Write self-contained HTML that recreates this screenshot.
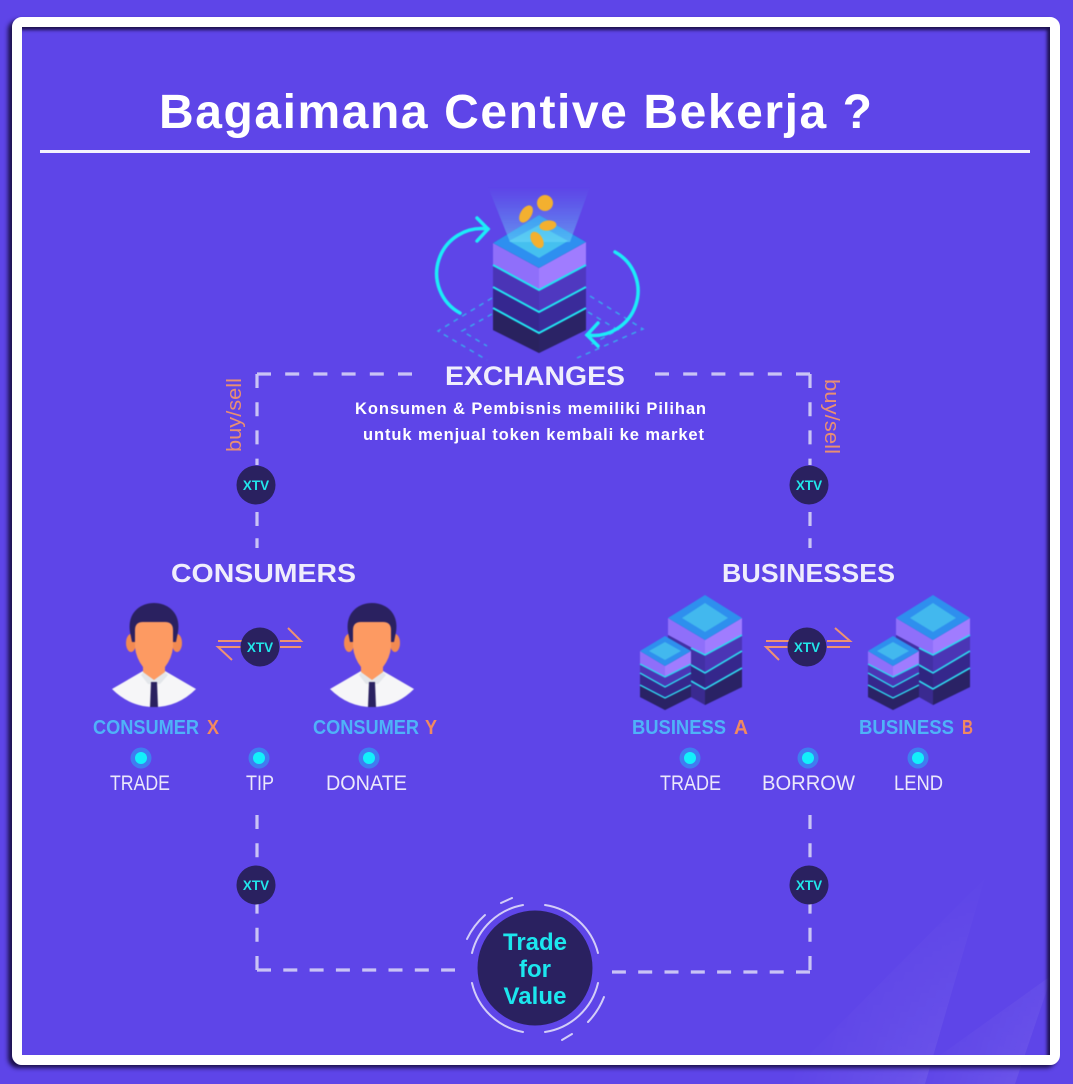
<!DOCTYPE html>
<html><head><meta charset="utf-8"><style>
html,body{margin:0;padding:0;background:#5e45e8;width:1073px;height:1084px;overflow:hidden}
svg{position:absolute;left:0;top:0}
#f{position:absolute;left:12px;top:17px;width:1028px;height:1028px;border:10px solid #fff;border-radius:10px;box-shadow:-4px 3px 4px rgba(25,15,70,.95),inset -3px 3px 3px rgba(25,15,70,.95)}
text{font-family:"Liberation Sans",sans-serif}
.soft{filter:blur(.5px)}
</style></head><body>
<svg width="1073" height="1084" viewBox="0 0 1073 1084" xmlns="http://www.w3.org/2000/svg">
<defs>
<linearGradient id="beam" x1="0" y1="0" x2="0" y2="1"><stop offset="0" stop-color="#5fb8f5" stop-opacity="0"/><stop offset="1" stop-color="#6fd8f8" stop-opacity=".55"/></linearGradient>
<linearGradient id="s1" gradientUnits="userSpaceOnUse" x1="820" y1="950" x2="958" y2="990"><stop offset="0" stop-color="#fff" stop-opacity="0"/><stop offset="1" stop-color="#fff" stop-opacity=".08"/></linearGradient>
<linearGradient id="s2" gradientUnits="userSpaceOnUse" x1="925" y1="1020" x2="1030" y2="1050"><stop offset="0" stop-color="#fff" stop-opacity="0"/><stop offset="1" stop-color="#fff" stop-opacity=".08"/></linearGradient>
<linearGradient id="st2" x1="0" y1="0" x2="0" y2="1"><stop offset="0" stop-color="#000"/><stop offset="1" stop-color="#fff"/></linearGradient>
<mask id="fade" maskUnits="userSpaceOnUse" x="760" y="860" width="313" height="224"><rect x="760" y="860" width="313" height="224" fill="url(#st2)"/></mask>
<g id="person">
<path d="M112 689L143 671H165L196 689Q178 707 154 707Q130 707 112 689Z" fill="#f6f6f8"/>
<path d="M141 675L146 669H162L168 675L160 684H148Z" fill="#e3e6ea"/>
<path d="M151 682H157L158 707H150Z" fill="#2a2160"/>
<ellipse cx="131" cy="643" rx="5" ry="9" fill="#f28a52"/><ellipse cx="177" cy="643" rx="5" ry="9" fill="#f28a52"/>
<path d="M130 632C127 613 140 603 154 603C168 603 181 613 178 632L176 642H132Z" fill="#2a2160"/>
<path d="M135 630Q135 622 143 622H165Q173 622 173 630V647Q172 658 165 667V672L154 680L143 672V667Q136 658 135 647Z" fill="#fd9a62"/>
</g>
<g id="bld">
<path d="M668 618L705 640V705L668 684Z" fill="#3a2a90"/>
<path d="M705 640L742 618V687L705 705Z" fill="#2f2475"/>
<path d="M705 640L742 618V635L705 655Z" fill="#a07cff"/><path d="M668 618L705 640V655L668 635Z" fill="#8f6ffa"/>
<path d="M705 655L742 635V651L705 673Z" fill="#4b35b5"/><path d="M668 635L705 655V673L668 651Z" fill="#4230a5"/>
<path d="M705 673L742 651V668L705 689Z" fill="#35278c"/><path d="M668 651L705 673V689L668 668Z" fill="#2f2580"/>
<path d="M705 689L742 668V687L705 705Z" fill="#2a2265"/>
<path d="M705 595L742 618L705 640L668 618Z" fill="#2e8fee"/>
<path d="M705 603L728 618L705 632L682 618Z" fill="#42b8ee"/>
<path d="M742 635L705 655L691 648M742 651L705 673L691 665M742 668L705 689L691 681" stroke="#2fd8f0" stroke-width="1.6" fill="none"/>
<path d="M665 666L691 651V697L665 710L640 697V651Z" fill="#3a2a90"/>
<path d="M640 651L665 666V677L640 664Z" fill="#8f6ffa"/><path d="M665 666L691 651V664L665 677Z" fill="#a07cff"/>
<path d="M640 664L665 677V687L640 673ZM665 677L691 664V673L665 687Z" fill="#4b35b5"/>
<path d="M640 673L665 687V698L640 685ZM665 687L691 673V685L665 698Z" fill="#35278c"/>
<path d="M640 685L665 698V710L640 697ZM665 698L691 685V697L665 710Z" fill="#2a2265"/>
<path d="M665 636L691 651L665 666L640 651Z" fill="#2e8fee"/>
<path d="M665 642L681 651L665 660L649 651Z" fill="#42b8ee"/>
<path d="M640 664L665 677L691 664M640 673L665 687L691 673M640 685L665 698L691 685" stroke="#2fd8f0" stroke-width="1.3" fill="none"/>
</g>
<g id="dot"><circle r="10.5" fill="#3f7df0"/><circle r="6" fill="#12f0fb"/></g>
<g id="xtv"><circle r="19.5" fill="#2a2160"/><text y="5" text-anchor="middle" font-size="13.5" font-weight="bold" fill="#22e6ea">XTV</text></g>
</defs>

<rect width="1073" height="1084" fill="#5e45e8"/>
<g mask="url(#fade)">
<path d="M985 878L925 1084H780Z" fill="url(#s1)"/>
<path d="M1052 975L1015 1084H900Z" fill="url(#s2)"/>
</g>

<text x="159" y="128" font-size="48" font-weight="bold" fill="#fff" textLength="713" lengthAdjust="spacing">Bagaimana Centive Bekerja ?</text>
<rect x="40" y="150" width="990" height="3" fill="#f4f2fd"/>

<!-- dashed connectors -->
<g fill="none" stroke="#c9c3f5" stroke-width="3.2">
<g stroke-dasharray="14 14.2">
<path d="M257 374H412"/><path d="M257 374V465"/>
<path d="M810 374H655"/><path d="M810 374V465"/>
<path d="M257 815V970"/>
<path d="M810 815V972"/>
</g>
<g stroke-dasharray="14 12.3">
<path d="M257 970H455"/>
<path d="M810 972H612"/>
<path d="M257 512V548"/>
<path d="M810 512V548"/>
</g>
</g>

<!-- exchange cube -->
<g class="soft">
<g fill="none" stroke="#3aa6ee" stroke-width="1.5" stroke-dasharray="5 5">
<path d="M492 298L438 331L487 360"/><path d="M590 296L643 329L577 358"/>
<path d="M492 314L462 331L487 346"/><path d="M588 312L618 330L590 345"/>
</g>
<path d="M539 215L586 242V330L539 353L493 330V243Z" fill="#33277d"/>
<path d="M493 243L539 268V290L493 265Z" fill="#8f6ffa"/><path d="M539 268L586 242V265L539 290Z" fill="#a07cff"/>
<path d="M493 265L539 290V312L493 287Z" fill="#4a34b6"/><path d="M539 290L586 265V287L539 312Z" fill="#4f38c0"/>
<path d="M493 287L539 312V333L493 308Z" fill="#35278f"/><path d="M539 312L586 287V308L539 333Z" fill="#3a2b9a"/>
<path d="M493 308L539 333V353L493 330Z" fill="#29225f"/><path d="M539 333L586 308V330L539 353Z" fill="#2b2366"/>
<path d="M539 215L586 242L539 268L493 243Z" fill="#2e8ff0"/>
<path d="M539 225L568 241L539 258L509 241Z" fill="#45c0ef"/>
<path d="M488 187H590L570 242H510Z" fill="url(#beam)"/>
<path d="M493 265L539 290L586 265M493 287L539 312L586 287M493 308L539 333L586 308" stroke="#22e4f2" stroke-width="2" fill="none"/>
<g fill="#f3b02f">
<ellipse cx="545" cy="203" rx="8" ry="8"/>
<ellipse cx="526" cy="214" rx="5.5" ry="9.5" transform="rotate(32 526 214)"/>
<ellipse cx="548" cy="225.500" rx="8.500" ry="5" transform="rotate(-8 548 226)"/>
<ellipse cx="537" cy="240" rx="5.500" ry="9" transform="rotate(-32 537 240)"/>
</g>
<g fill="none" stroke="#1cecf8" stroke-width="3.5" stroke-linecap="round">
<path d="M460 313A45 45 0 0 1 488 229"/>
<path d="M477 218L488 229L477 241"/>
<path d="M615 252A44.500 44.500 0 0 1 587 335"/>
<path d="M598 323L587 335L598 346"/>
</g>
</g>
<text x="445" y="385" font-size="27" font-weight="bold" fill="#f0eefc" textLength="180" lengthAdjust="spacingAndGlyphs">EXCHANGES</text>
<text x="355" y="414" font-size="16.5" font-weight="bold" fill="#fff" textLength="351" lengthAdjust="spacing">Konsumen &amp; Pembisnis memiliki Pilihan</text>
<text x="363" y="440" font-size="16.5" font-weight="bold" fill="#fff" textLength="341" lengthAdjust="spacing">untuk menjual token kembali ke market</text>
<text transform="translate(241 452) rotate(-90)" font-size="20" fill="#e98f72" textLength="74" lengthAdjust="spacingAndGlyphs">buy/sell</text>
<text transform="translate(825 379) rotate(90)" font-size="20" fill="#e98f72" textLength="75" lengthAdjust="spacingAndGlyphs">buy/sell</text>

<use href="#xtv" x="256" y="485"/><use href="#xtv" x="809" y="485"/>
<use href="#xtv" x="256" y="885"/><use href="#xtv" x="809" y="885"/>

<text x="171" y="582" font-size="26" font-weight="bold" fill="#efedfc" textLength="185" lengthAdjust="spacingAndGlyphs">CONSUMERS</text>
<text x="722" y="582" font-size="26" font-weight="bold" fill="#efedfc" textLength="173" lengthAdjust="spacingAndGlyphs">BUSINESSES</text>

<g class="soft">
<use href="#person"/><use href="#person" x="218"/>
<use href="#bld"/><use href="#bld" x="228"/>
</g>

<g fill="none" stroke="#ee9273" stroke-width="2">
<path d="M218 641H242M280 641H301L288 628M232 660L218 647H242M280 647H301"/>
<path d="M766 641H789M827 641H850L835 628M779 660L766 647H789M827 647H850"/>
</g>
<use href="#xtv" x="260" y="647"/><use href="#xtv" x="807" y="647"/>

<g font-size="20" font-weight="bold" fill="#4fb2f8">
<text x="93" y="734" textLength="106" lengthAdjust="spacingAndGlyphs">CONSUMER</text><text x="207" y="734" fill="#f08a60" textLength="12" lengthAdjust="spacingAndGlyphs">X</text>
<text x="313" y="734" textLength="106" lengthAdjust="spacingAndGlyphs">CONSUMER</text><text x="425" y="734" fill="#f08a60" textLength="12" lengthAdjust="spacingAndGlyphs">Y</text>
<text x="632" y="734" textLength="94" lengthAdjust="spacingAndGlyphs">BUSINESS</text><text x="734" y="734" fill="#f08a60" textLength="14" lengthAdjust="spacingAndGlyphs">A</text>
<text x="859" y="734" textLength="95" lengthAdjust="spacingAndGlyphs">BUSINESS</text><text x="962" y="734" fill="#f08a60" textLength="11" lengthAdjust="spacingAndGlyphs">B</text>
</g>

<use href="#dot" x="141" y="758"/><use href="#dot" x="259" y="758"/><use href="#dot" x="369" y="758"/>
<use href="#dot" x="690" y="758"/><use href="#dot" x="808" y="758"/><use href="#dot" x="918" y="758"/>

<g font-size="21" fill="#ebe8fb">
<text x="110" y="790" textLength="60" lengthAdjust="spacingAndGlyphs">TRADE</text>
<text x="246" y="790" textLength="28" lengthAdjust="spacingAndGlyphs">TIP</text>
<text x="326" y="790" textLength="81" lengthAdjust="spacingAndGlyphs">DONATE</text>
<text x="660" y="790" textLength="61" lengthAdjust="spacingAndGlyphs">TRADE</text>
<text x="762" y="790" textLength="93" lengthAdjust="spacingAndGlyphs">BORROW</text>
<text x="894" y="790" textLength="49" lengthAdjust="spacingAndGlyphs">LEND</text>
</g>

<!-- trade for value -->
<circle cx="535" cy="968" r="57.5" fill="#2a2160"/>
<g fill="none" stroke="#d3cdf8" stroke-width="2" stroke-linecap="round">
<path d="M472 953A64.5 64.5 0 0 1 523 905"/>
<path d="M545 905A64.5 64.5 0 0 1 598 953"/>
<path d="M472 983A64.5 64.5 0 0 0 523 1032"/>
<path d="M545 1032A64.5 64.5 0 0 0 598 983"/>
<path d="M467 939A76 76 0 0 1 485 915"/>
<path d="M501 903L512 898"/>
<path d="M588 1022A76 76 0 0 0 604 997"/>
<path d="M562 1040L572 1034"/>
</g>
<g font-size="24" font-weight="bold" fill="#1ce6ee" text-anchor="middle">
<text x="535" y="950" textLength="64" lengthAdjust="spacing">Trade</text>
<text x="535" y="977" textLength="32" lengthAdjust="spacing">for</text>
<text x="535" y="1004" textLength="63" lengthAdjust="spacing">Value</text>
</g>
</svg>
<div id="f"></div>
</body></html>
